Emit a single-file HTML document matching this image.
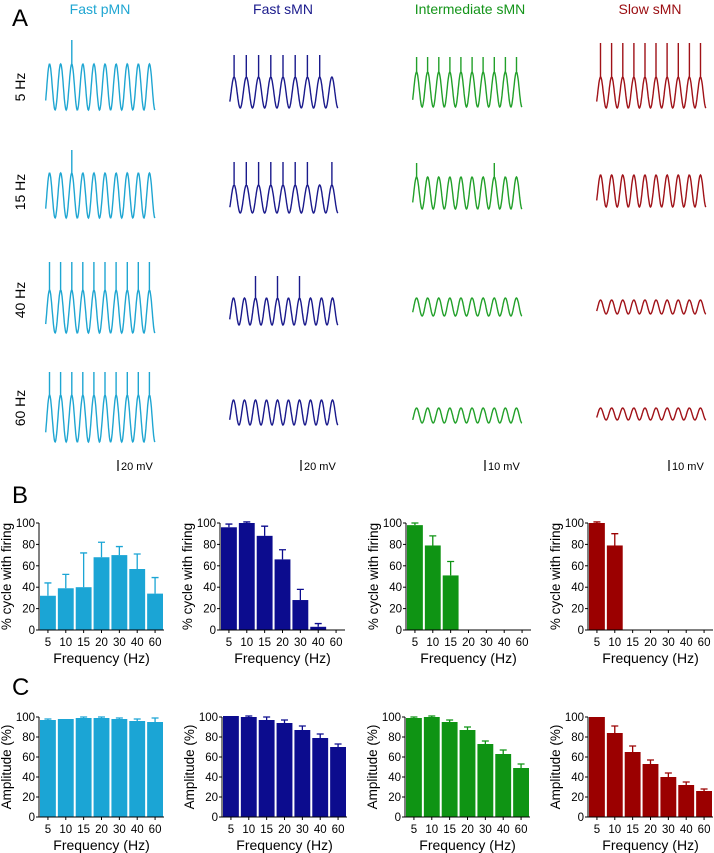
<!DOCTYPE html>
<html><head><meta charset="utf-8"><style>
body{margin:0;background:#fff;}
svg{display:block;font-family:"Liberation Sans",Arial,sans-serif;}
</style></head><body>
<svg id="fig" width="714" height="853" viewBox="0 0 714 853" xmlns="http://www.w3.org/2000/svg">
<text x="12" y="26" font-size="24">A</text>
<text x="12" y="503" font-size="24">B</text>
<text x="12" y="695" font-size="24">C</text>
<text x="100" y="14" font-size="14" fill="#1fa6d2" text-anchor="middle">Fast pMN</text>
<text x="283" y="14" font-size="14" fill="#1a1a8c" text-anchor="middle">Fast sMN</text>
<text x="470" y="14" font-size="14" fill="#14951a" text-anchor="middle">Intermediate sMN</text>
<text x="650" y="14" font-size="14" fill="#9a0c10" text-anchor="middle">Slow sMN</text>
<text transform="translate(25,87) rotate(-90)" font-size="14" text-anchor="middle">5 Hz</text>
<text transform="translate(25,192) rotate(-90)" font-size="14" text-anchor="middle">15 Hz</text>
<text transform="translate(25,300) rotate(-90)" font-size="14" text-anchor="middle">40 Hz</text>
<text transform="translate(25,408) rotate(-90)" font-size="14" text-anchor="middle">60 Hz</text>
<g id="traces"></g>
<g id="bars"></g>
</svg>
<script>
const NS="http://www.w3.org/2000/svg";
const colors=["#1ba5d5","#0c0c8e","#0f9414","#9b0000"];
const traceColors=["#1fa6d2","#1a1a8c","#22a02a","#a01218"];
// ---- traces (A) ----
const colX0=[44,228,411,595];
const colX1=[155,338,522,706];
const rowBottoms=[[110,108,107,108],[218,213,209,207],[333,325,316,314],[442,425,423,420]];
const rowPeaks=[[64,77,72,77],[173,185,177,175],[290,298,298,300],[395,400,408,408]];
const rowSpikeTops=[[40,55,57,43],[150,162,163,175],[262,276,298,300],[372,400,408,408]];
const rowCycles=[[10,9,10,10],[10,9,10,10],[10,10,10,10],[10,10,10,10]];
const spikeFlags=[
 [[0,0,1,0,0,0,0,0,0,0],[1,1,1,1,1,1,1,1,0],[1,1,1,1,1,1,1,1,1,1],[1,1,1,1,1,1,1,1,1,1]],
 [[0,0,1,0,0,0,0,0,0,0],[1,1,1,1,1,1,1,0,1],[1,0,0,0,0,0,0,1,0,0],[0,0,0,0,0,0,0,0,0,0]],
 [[1,1,1,1,1,1,1,1,1,1],[0,0,1,0,1,0,1,0,0,0],[0,0,0,0,0,0,0,0,0,0],[0,0,0,0,0,0,0,0,0,0]],
 [[1,1,1,1,1,1,1,1,1,1],[0,0,0,0,0,0,0,0,0,0],[0,0,0,0,0,0,0,0,0,0],[0,0,0,0,0,0,0,0,0,0]]
];
const scaleLabels=["20 mV","20 mV","10 mV","10 mV"];
const tg=document.getElementById('traces');
for(let r=0;r<4;r++){for(let c=0;c<4;c++){
 const x0=colX0[c],x1=colX1[c],bot=rowBottoms[r][c],pk=rowPeaks[r][c],sp=rowSpikeTops[r][c],n=rowCycles[r][c];
 const amp=bot-pk,per=(x1-x0)/n;let d="";
 const flags=spikeFlags[r][c];
 for(let i=0;i<=240;i++){
  const t=0.15+i/240*(n-0.15);const x=x0+t*per;
  const y=bot-amp*(1-Math.cos(2*Math.PI*t))/2;
  d+=(i?"L":"M")+x.toFixed(1)+" "+y.toFixed(1);
 }
 for(let k=0;k<n;k++){if(flags[k]){const xs=x0+(k+0.5)*per;d+="M"+xs.toFixed(1)+" "+pk+"L"+xs.toFixed(1)+" "+sp;}}
 const p=document.createElementNS(NS,'path');p.setAttribute('d',d);p.setAttribute('fill','none');
 p.setAttribute('stroke',traceColors[c]);p.setAttribute('stroke-width','1.4');
 
 
 tg.appendChild(p);
}}
for(let c=0;c<4;c++){
 const l=document.createElementNS(NS,'line');const x=colX1[c]-37;
 l.setAttribute('x1',x);l.setAttribute('x2',x);l.setAttribute('y1',460);l.setAttribute('y2',471);l.setAttribute('stroke','#000');l.setAttribute('stroke-width','1.2');
 
 
 tg.appendChild(l);
 const t=document.createElementNS(NS,'text');t.setAttribute('x',x+3);t.setAttribute('y',470);t.setAttribute('font-size','11');t.textContent=scaleLabels[c];
 
 
 tg.appendChild(t);
}
// ---- bar charts ----
const categories=["5","10","15","20","30","40","60"];
const yTicks=[0,20,40,60,80,100];
const bMeans=[[32,39,40,68,70,57,34],[96,100,88,66,28,3,0],[98,79,51,0,0,0,0],[100,79,0,0,0,0,0]];
const bTops=[[44,52,72,82,78,71,49],[99,101,97,75,38,6,0],[100,88,64,0,0,0,0],[101,90,0,0,0,0,0]];
const cMeans=[[97,98,99,99,98,96,95],[101,100,97,94,87,79,70],[99,100,95,87,73,63,49],[100,84,65,53,40,32,26]];
const cTops=[[98,98,100,100,99,98,99],[101,101,100,97,91,83,73],[100,101,97,90,76,67,53],[100,91,71,57,44,35,28]];
const bg=document.getElementById('bars');
function el(tag,attrs,txt){const e=document.createElementNS(NS,tag);for(const k in attrs)e.setAttribute(k,attrs[k]);if(txt!=null)e.textContent=txt;bg.appendChild(e);return e;}
function chart(ax,yTop,yBot,means,tops,color,ylabel,name){
 const w=125,slot=w/7;
 const ys=v=>yBot-(v/100)*(yBot-yTop);
 for(let i=0;i<7;i++){
  const cx=ax+slot*(i+0.5);
  if(means[i]>0){
   const r=el('rect',{x:cx-slot/2+1,y:ys(means[i]),width:slot-2,height:yBot-ys(means[i]),fill:color});
   
   
   if(tops[i]>means[i]){
    const e=el('path',{d:`M${cx} ${ys(means[i])}V${ys(tops[i])}M${cx-3.5} ${ys(tops[i])}H${cx+3.5}`,stroke:color,'stroke-width':1.3,fill:'none'});
    
    
   }
  }
  const t=el('text',{x:cx,y:yBot+16,'font-size':11.5,'text-anchor':'middle'},categories[i]);
  
  
  el('line',{x1:cx,x2:cx,y1:yBot,y2:yBot+3,stroke:'#000'});
 }
 const a=el('path',{d:`M${ax} ${yTop}V${yBot}H${ax+w}`,stroke:'#000','stroke-width':1,fill:'none'});
 
 
 yTicks.forEach(v=>{
  el('line',{x1:ax-3,x2:ax,y1:ys(v),y2:ys(v),stroke:'#000'});
  const t=el('text',{x:ax-4,y:ys(v)+4,'font-size':11.5,'text-anchor':'end'},String(v));
  
  
 });
 const xt=el('text',{x:ax+w/2,y:yBot+33,'font-size':14,'text-anchor':'middle'},'Frequency (Hz)');
 
 
 const yt=el('text',{transform:`translate(${ax-28},${(yTop+yBot)/2}) rotate(-90)`,'font-size':13.5,'text-anchor':'middle'},ylabel);
 
 
}
const bAx=[39,220,406,588],cAx=[39,222,405,588];
for(let i=0;i<4;i++){
 chart(bAx[i],523,630,bMeans[i],bTops[i],colors[i],'% cycle with firing','firing-chart-'+i);
 chart(cAx[i],717,817,cMeans[i],cTops[i],colors[i],'Amplitude (%)','amplitude-chart-'+i);
}
</script>
</body></html>
